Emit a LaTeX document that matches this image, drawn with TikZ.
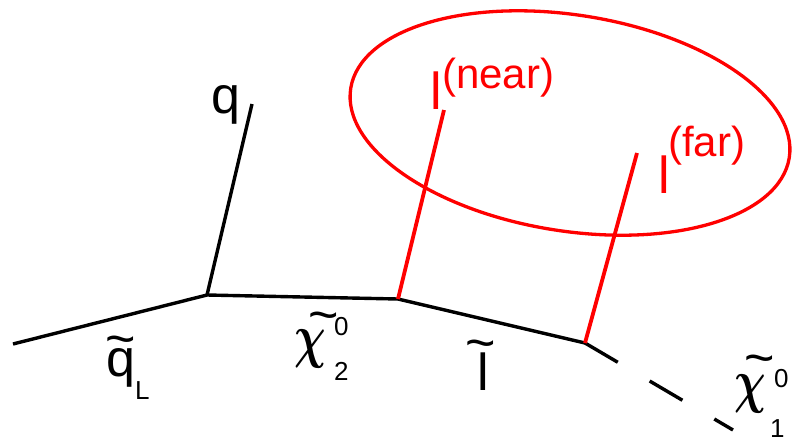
\documentclass[tikz,border=0pt]{standalone}
\usepackage{bm}
\usepackage{fontspec}
\setmainfont{Liberation Sans}
\begin{document}
\begin{tikzpicture}[x=1pt,y=-1pt,
  blk/.style={line width=3.4pt, black},
  redl/.style={line width=3.8pt, red},
  labbig/.style={font=\fontsize{52}{60}\selectfont, inner sep=0pt, anchor=base west},
  labchi/.style={inner sep=0pt, anchor=base west, xscale=4.4, yscale=6.0},
  labsup/.style={font=\fontsize{42}{50}\selectfont, inner sep=0pt, anchor=base west},
  labsmall/.style={font=\fontsize{26}{30}\selectfont, inner sep=0pt, anchor=base west},
  labtilde/.style={font=\fontsize{52}{60}\selectfont, inner sep=0pt, anchor=base},
]
\useasboundingbox (0,0) rectangle (796,440);
\coordinate (a) at (13,344);
\coordinate (v1) at (207,295);
\coordinate (qe) at (252,104);
\coordinate (v2) at (398,299);
\coordinate (v3) at (585,343);
\coordinate (e) at (733,430);
\coordinate (ne) at (444,110);
\coordinate (fe) at (637,153);

\draw[blk] (a) -- (v1) -- (v2) -- (v3);
\draw[blk] (v1) -- (qe);
\draw[blk, dash pattern=on 38pt off 37pt] (v3) -- (e);
\draw[redl] (v2) -- (ne);
\draw[redl] (v3) -- (fe);
\draw[red, line width=3.3pt, rotate around={-9:(570,123)}] (570,123) ellipse [x radius=222, y radius=108];

% labels
\node[labbig] (q) at (211,113) {q};
\node[labbig] (sq) at (106,376) {q};
\node[labtilde] (sqt) at (121,356) {\symbol{126}};
\node[labsmall] (sqL) at (135,399) {L};

\node[labchi] (c2) at (294,356) {$\bm{\chi}$};
\node[labtilde] (c2t) at (324,332) {\symbol{126}};
\node[labsmall] (c2s) at (334,335) {0};
\node[labsmall] (c2b) at (334,380) {2};

\node[labbig] (sl) at (477,390) {l};
\node[labtilde] (slt) at (481,360) {\symbol{126}};

\node[labchi] (c1) at (734,401) {$\bm{\chi}$};
\node[labtilde] (c1t) at (760,375) {\symbol{126}};
\node[labsmall] (c1s) at (774,387) {0};
\node[labsmall] (c1b) at (770,437) {1};

\node[labbig, text=red] (nl) at (430.5,109) {l};
\node[labsup, text=red] (ns) at (442,88) {(near)};
\node[labbig, text=red] (fl) at (658,193) {l};
\node[labsup, text=red] (fs) at (668,156) {(far)};
\end{tikzpicture}
\end{document}
